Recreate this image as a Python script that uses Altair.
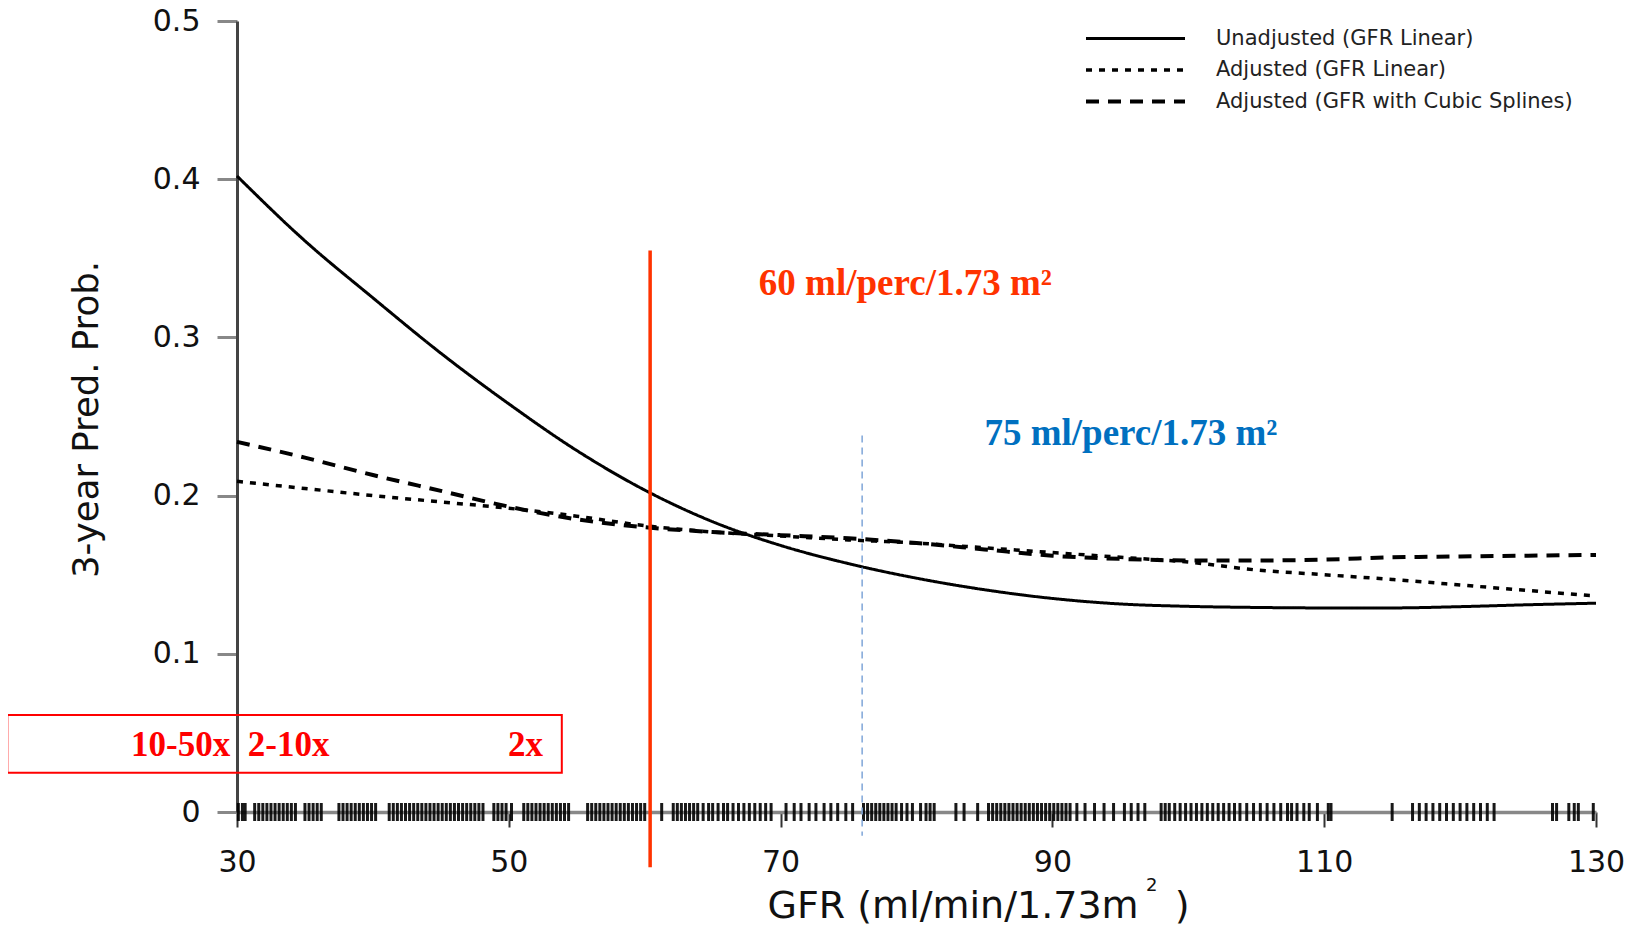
import altair as alt
import pandas as pd

# ---- data ----
gfr = [30, 35, 40, 45, 50, 55, 60, 65, 70, 75, 80, 85, 90, 95, 100, 105, 110, 115, 120, 125, 130]
unadjusted = [0.402, 0.361, 0.325, 0.290, 0.258, 0.2285, 0.2035, 0.1835, 0.1685, 0.157, 0.1478,
              0.1405, 0.135, 0.1315, 0.130, 0.1293, 0.129, 0.129, 0.1298, 0.131, 0.132]
adjusted_linear = [0.209, 0.2045, 0.200, 0.196, 0.192, 0.187, 0.181, 0.177, 0.1745, 0.172, 0.170,
                   0.167, 0.164, 0.161, 0.158, 0.153, 0.150, 0.147, 0.1435, 0.140, 0.1365]
adjusted_spline = [0.234, 0.224, 0.213, 0.203, 0.193, 0.185, 0.180, 0.177, 0.175, 0.173, 0.170,
                   0.166, 0.162, 0.160, 0.159, 0.159, 0.1595, 0.161, 0.1615, 0.162, 0.1625]
series_names = ["Unadjusted (GFR Linear)", "Adjusted (GFR Linear)", "Adjusted (GFR with Cubic Splines)"]

rug_gfr = [30.1, 30.4, 30.6, 31.3, 31.6, 31.9, 32.2, 32.5, 32.8, 33.1, 33.4, 33.7, 34.0, 34.3,
           35.0, 35.3, 35.6, 35.9, 36.2, 37.5, 37.8, 38.1, 38.4, 38.7, 39.0, 39.3, 39.6, 39.9, 40.2,
           41.2, 41.5, 41.8, 42.1, 42.4, 42.7, 43.0, 43.3, 43.6, 43.9, 44.2, 44.5, 44.8, 45.1, 45.4,
           45.7, 46.0, 46.3, 46.6, 46.9, 47.2, 47.5, 47.8, 48.1, 48.9, 49.2, 49.5, 49.8, 50.2,
           51.1, 51.4, 51.7, 52.0, 52.3, 52.6, 52.9, 53.2, 53.5, 53.8, 54.1, 54.4,
           55.8, 56.1, 56.4, 56.7, 57.0, 57.3, 57.6, 57.9, 58.2, 58.5, 58.8, 59.1, 59.4, 59.7, 60.0,
           61.25, 62.1, 62.4, 62.7, 63.0, 63.3, 63.6, 63.9, 64.3, 64.7, 65.0, 65.4, 65.8, 66.1, 66.5,
           66.9, 67.3, 67.7, 68.1, 68.5, 68.9, 69.3, 70.4, 71.0, 71.5, 72.1, 72.6, 73.2, 73.7, 74.2,
           74.8, 75.3, 76.1, 76.4, 76.7, 77.0, 77.3, 77.6, 77.9, 78.2, 78.5, 78.9, 79.3, 79.7, 80.3,
           80.7, 81.0, 81.3, 82.9, 83.5, 84.5, 85.3, 85.6, 85.9, 86.2, 86.5, 86.8, 87.1, 87.4, 87.7,
           88.0, 88.3, 88.6, 88.9, 89.2, 89.5, 89.8, 90.1, 90.4, 90.7, 91.0, 91.3, 91.8, 92.4, 93.1,
           93.8, 94.5, 95.3, 95.8, 96.3, 96.8, 98.0, 98.3, 98.6, 99.0, 99.4, 99.8, 100.2, 100.6,
           101.0, 101.4, 101.8, 102.2, 102.6, 103.0, 103.4, 103.8, 104.3, 104.8, 105.3, 105.8,
           106.3, 106.8, 107.3, 107.6, 108.0, 108.5, 108.9, 109.5, 110.3, 110.5, 115.0, 116.5,
           117.0, 117.5, 118.0, 118.5, 119.0, 119.5, 120.0, 120.5, 121.0, 121.5, 122.0, 122.5,
           126.8, 127.1, 128.0, 128.4, 128.7, 129.8]

x_ticks = [30, 50, 70, 90, 110, 130]
y_ticks = [0, 0.1, 0.2, 0.3, 0.4, 0.5]

# reference lines (x, y top, y bottom)
red_line = {"x": 60.4, "y": 0.355, "y2": -0.035}
blue_line = {"x": 76.0, "y": 0.238, "y2": -0.015}

annot_text = ["60 ml/perc/1.73 m²", "75 ml/perc/1.73 m²"]
annot_x = [68.4, 85.0]
annot_y = [0.327, 0.232]
annot_color = ["#FF3300", "#0070C0"]

box_labels = ["10-50x", "2-10x", "2x"]
box_label_x = [22.2, 30.8, 49.95]
box_label_y = [0.0355, 0.0355, 0.0355]
box_extent = {"x": 13.1, "x2": 53.9, "y": 0.0613, "y2": 0.0248}

sup_text = ["2"]
sup_x = [97.3]
sup_y = [-0.050]

# ---- tables ----
rows = []
for name, vals in zip(series_names, [unadjusted, adjusted_linear, adjusted_spline]):
    for g, v in zip(gfr, vals):
        rows.append({"gfr": g, "prob": v, "series": name})
lines_df = pd.DataFrame(rows)
rug_df = pd.DataFrame({"gfr": rug_gfr})
annot_df = pd.DataFrame({"t": annot_text, "x": annot_x, "y": annot_y, "c": annot_color})
box_df = pd.DataFrame([box_extent])
box_lab_df = pd.DataFrame({"t": box_labels, "x": box_label_x, "y": box_label_y})
sup_df = pd.DataFrame({"t": sup_text, "x": sup_x, "y": sup_y})
red_df = pd.DataFrame([red_line])
blue_df = pd.DataFrame([blue_line])

xscale = alt.Scale(domain=[30, 130], nice=False, zero=False)
yscale = alt.Scale(domain=[0, 0.5], nice=False)

x_axis = alt.Axis(values=x_ticks, title="GFR (ml/min/1.73m\u00a0\u00a0\u00a0)", titleFont="DejaVu Sans",
                  titleFontSize=38, titleFontWeight="normal", titleColor="#111",
                  titleX=530, titleY=105, titleAlign="left", titleBaseline="alphabetic",
                  labelFont="DejaVu Sans", labelFontSize=30, labelColor="#111", labelPadding=20,
                  labelFlush=False, tickSize=15, tickColor="#333", tickWidth=2,
                  domainColor="#888", domainWidth=3.5, grid=False)
y_axis = alt.Axis(values=y_ticks, title="3-year Pred. Prob.", titleFont="DejaVu Sans",
                  titleFontSize=35.5, titleFontWeight="normal", titleColor="#111",
                  titleX=-151, titleY=398, titleAngle=270, titleAlign="center",
                  titleBaseline="middle",
                  labelExpr="datum.value == 0 ? '0' : format(datum.value, '.1f')",
                  labelFont="DejaVu Sans", labelFontSize=30, labelColor="#111", labelPadding=17,
                  tickSize=20, tickColor="#888", tickWidth=3, domainColor="#444", domainWidth=3,
                  grid=False)

legend = alt.Legend(orient="none", legendX=888, legendY=7, title=None,
                    symbolType="M-9.9,0L9.9,0", symbolSize=100, symbolStrokeColor="black",
                    labelFont="DejaVu Sans", labelFontSize=21, labelColor="#222",
                    labelOffset=70, rowPadding=9.5, labelLimit=600)

base_x = alt.X("gfr:Q", scale=xscale, axis=x_axis)

lines = alt.Chart(lines_df).mark_line(color="black", interpolate="monotone").encode(
    x=base_x,
    y=alt.Y("prob:Q", scale=yscale, axis=y_axis),
    strokeDash=alt.StrokeDash("series:N",
                              scale=alt.Scale(domain=series_names,
                                              range=[[1, 0], [6, 7], [13, 9]]),
                              legend=legend),
    strokeWidth=alt.StrokeWidth("series:N",
                                scale=alt.Scale(domain=series_names, range=[3, 4, 5.5]),
                                legend=legend),
    detail="series:N",
)

rug = alt.Chart(rug_df).mark_tick(color="black", size=18, thickness=3, opacity=0.9).encode(
    x=alt.X("gfr:Q", scale=xscale),
    y=alt.datum(0, scale=yscale),
)

red = alt.Chart(red_df).mark_rule(color="#FF3300", strokeWidth=3.5).encode(
    x=alt.X("x:Q", scale=xscale), y=alt.Y("y:Q", scale=yscale), y2="y2:Q")
blue = alt.Chart(blue_df).mark_rule(color="#7FA6D8", strokeWidth=1.5, strokeDash=[7, 5]).encode(
    x=alt.X("x:Q", scale=xscale), y=alt.Y("y:Q", scale=yscale), y2="y2:Q")

box = alt.Chart(box_df).mark_rect(fillOpacity=0, stroke="#FF0000", strokeWidth=2).encode(
    x=alt.X("x:Q", scale=xscale), x2="x2:Q", y=alt.Y("y:Q", scale=yscale), y2="y2:Q")

box_text = alt.Chart(box_lab_df).mark_text(font="Liberation Serif", fontWeight="bold",
                                           fontSize=35, color="#FF0000", align="left",
                                           baseline="alphabetic").encode(
    x=alt.X("x:Q", scale=xscale), y=alt.Y("y:Q", scale=yscale), text="t:N")

annots = alt.Chart(annot_df).mark_text(font="Liberation Serif", fontWeight="bold", fontSize=37,
                                       align="left", baseline="alphabetic").encode(
    x=alt.X("x:Q", scale=xscale), y=alt.Y("y:Q", scale=yscale), text="t:N",
    color=alt.Color("c:N", scale=None))

sup = alt.Chart(sup_df).mark_text(font="DejaVu Sans", fontSize=18, color="#111", align="center",
                                  baseline="alphabetic").encode(
    x=alt.X("x:Q", scale=xscale), y=alt.Y("y:Q", scale=yscale), text="t:N")

chart = alt.layer(box, lines, rug, red, blue, box_text, annots, sup).properties(
    width=1359, height=791,
    padding={"left": 229, "top": 13, "right": 30, "bottom": 114},
    autosize=alt.AutoSizeParams(type="none"),
    background="white",
).configure_view(stroke=None)

chart.save("out.html", embed_options={"renderer": "svg", "actions": False})
